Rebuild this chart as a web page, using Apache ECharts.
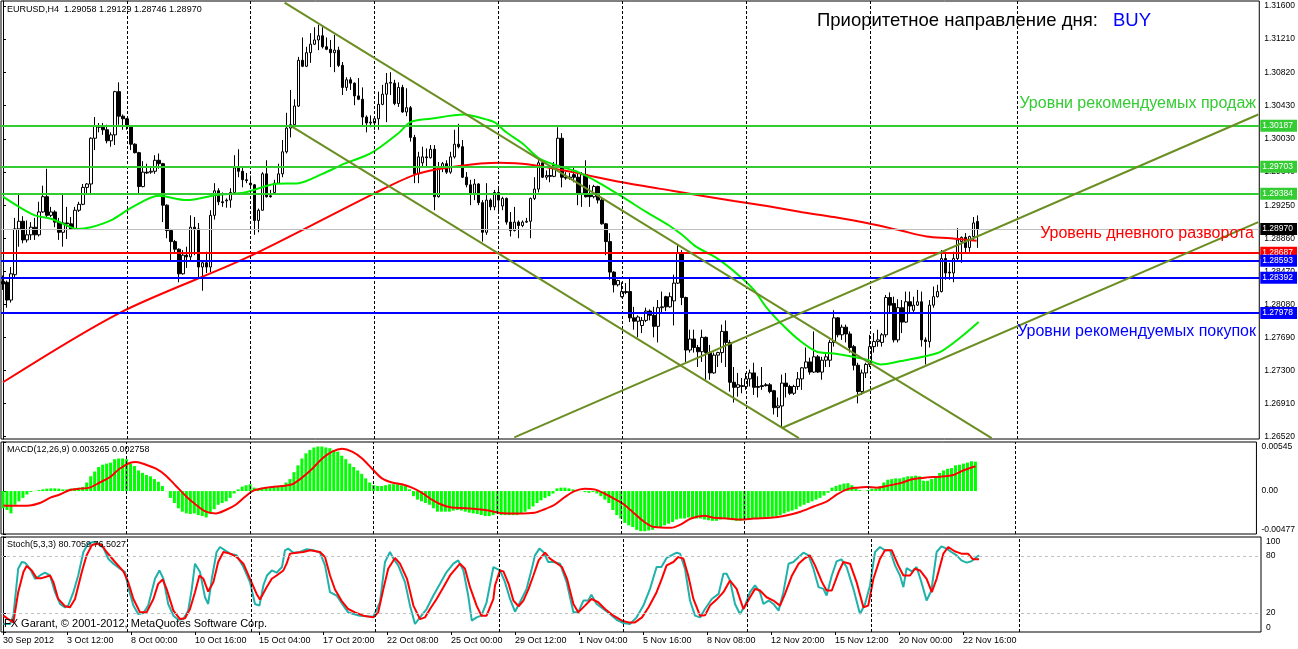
<!DOCTYPE html>
<html>
<head>
<meta charset="utf-8">
<script src="https://cdn.jsdelivr.net/npm/echarts@6/dist/echarts.min.js"></script>
<style>
html, body { margin: 0; padding: 0; background: #fff; }
#chart { width: 1298px; height: 649px; }
</style>
</head>
<body>
<div id="chart"></div>
<script>
// EURUSD H4 candles, 30 Sep - 22 Nov 2012
var opens = [1.2835,1.2834,1.2813,1.2843,1.2897,1.2906,1.2884,1.2890,1.2899,1.2890,
1.2917,1.2935,1.2913,1.2917,1.2905,1.2893,1.2904,1.2903,1.2897,1.2919,
1.2926,1.2946,1.2950,1.3004,1.3018,1.3017,1.3014,1.3001,1.3008,1.3059,
1.3030,1.3027,1.3018,1.2997,1.2987,1.2947,1.2964,1.2964,1.2965,1.2978,
1.2974,1.2925,1.2895,1.2882,1.2873,1.2844,1.2866,1.2864,1.2899,1.2897,
1.2852,1.2857,1.2852,1.2913,1.2942,1.2929,1.2930,1.2931,1.2940,1.2969,
1.2965,1.2955,1.2951,1.2949,1.2907,1.2919,1.2962,1.2936,1.2940,1.2951,
1.2962,1.2988,1.3016,1.3020,1.3042,1.3096,1.3089,1.3105,1.3115,1.3120,
1.3125,1.3112,1.3109,1.3105,1.3108,1.3090,1.3064,1.3073,1.3069,1.3054,
1.3050,1.3029,1.3022,1.3022,1.3027,1.3044,1.3056,1.3069,1.3069,1.3045,
1.3064,1.3035,1.3040,1.3005,1.2962,1.2975,1.2982,1.2981,1.2991,1.2935,
1.2970,1.2974,1.2964,1.2982,1.2997,1.2994,1.2958,1.2949,1.2939,1.2950,
1.2928,1.2893,1.2931,1.2923,1.2940,1.2924,1.2933,1.2905,1.2895,1.2905,
1.2901,1.2905,1.2906,1.2933,1.2944,1.2975,1.2958,1.2960,1.2959,1.2972,
1.3004,1.2958,1.2957,1.2961,1.2958,1.2939,1.2961,1.2937,1.2935,1.2947,
1.2931,1.2903,1.2882,1.2846,1.2831,1.2817,1.2823,1.2823,1.2792,1.2788,
1.2783,1.2789,1.2800,1.2795,1.2782,1.2804,1.2817,1.2805,1.2812,1.2833,
1.2869,1.2816,1.2754,1.2767,1.2757,1.2752,1.2769,1.2751,1.2727,1.2748,
1.2751,1.2776,1.2763,1.2716,1.2710,1.2712,1.2711,1.2720,1.2727,1.2711,
1.2712,1.2713,1.2713,1.2706,1.2686,1.2688,1.2715,1.2711,1.2703,1.2711,
1.2720,1.2733,1.2740,1.2728,1.2746,1.2728,1.2742,1.2742,1.2763,1.2792,
1.2772,1.2781,1.2773,1.2758,1.2736,1.2705,1.2727,1.2737,1.2758,1.2764,
1.2763,1.2772,1.2816,1.2809,1.2766,1.2804,1.2787,1.2811,1.2801,1.2807,
1.2811,1.2766,1.2764,1.2807,1.2817,1.2823,1.2862,1.2846,1.2845,1.2862,
1.2882,1.2887,1.2875,1.2888,1.29058];
var closes = [1.2832,1.2813,1.2844,1.2897,1.2906,1.2884,1.2890,1.2899,1.2890,1.2917,
1.2935,1.2913,1.2917,1.2905,1.2893,1.2904,1.2903,1.2897,1.2919,1.2926,
1.2946,1.2950,1.3004,1.3018,1.3017,1.3014,1.3001,1.3008,1.3059,1.3030,
1.3027,1.3018,1.2997,1.2987,1.2947,1.2964,1.2963,1.2965,1.2978,1.2974,
1.2925,1.2895,1.2882,1.2873,1.2844,1.2866,1.2864,1.2899,1.2897,1.2852,
1.2857,1.2852,1.2913,1.2942,1.2929,1.2928,1.2931,1.2940,1.2969,1.2965,
1.2955,1.2954,1.2949,1.2907,1.2919,1.2962,1.2935,1.2935,1.2951,1.2962,
1.2988,1.3016,1.3020,1.3042,1.3096,1.3089,1.3105,1.3115,1.3120,1.3125,
1.3112,1.3109,1.3105,1.3108,1.3090,1.3064,1.3073,1.3069,1.3054,1.3050,
1.3029,1.3022,1.3023,1.3027,1.3044,1.3056,1.3069,1.3070,1.3045,1.3064,
1.3035,1.3040,1.3005,1.2962,1.2982,1.2982,1.2981,1.2991,1.2935,1.2970,
1.2974,1.2964,1.2982,1.2997,1.2994,1.2958,1.2949,1.2939,1.2950,1.2928,
1.2893,1.2931,1.2923,1.2940,1.2931,1.2933,1.2905,1.2895,1.2905,1.2901,
1.2905,1.2906,1.2933,1.2944,1.2975,1.2958,1.2960,1.2959,1.2972,1.3004,
1.2958,1.2957,1.2958,1.2958,1.2939,1.2961,1.2935,1.2935,1.2947,1.2931,
1.2903,1.2882,1.2846,1.2831,1.2836,1.2823,1.2822,1.2792,1.2788,1.2793,
1.2789,1.2800,1.2795,1.2782,1.2804,1.2805,1.2805,1.2817,1.2833,1.2869,
1.2816,1.2754,1.2767,1.2757,1.2752,1.2769,1.2751,1.2727,1.2748,1.2751,
1.2776,1.2763,1.2716,1.2710,1.2713,1.2711,1.2720,1.2727,1.2710,1.2710,
1.2711,1.2712,1.2705,1.2686,1.2688,1.2715,1.2711,1.2703,1.2711,1.2720,
1.2733,1.2740,1.2728,1.2746,1.2728,1.2742,1.2746,1.2763,1.2792,1.2772,
1.2781,1.2773,1.2757,1.2736,1.2705,1.2727,1.2737,1.2758,1.2764,1.2766,
1.2772,1.2816,1.2807,1.2766,1.2804,1.2787,1.2811,1.2806,1.2807,1.2811,
1.2766,1.2764,1.2807,1.2817,1.2823,1.2862,1.2845,1.2845,1.2862,1.2884,
1.2887,1.2875,1.2888,1.2904,1.28970];
var lows = [1.2825,1.2804,1.2810,1.2840,1.2876,1.2880,1.2881,1.2884,1.2884,1.2888,
1.2916,1.2911,1.2911,1.2899,1.2884,1.2876,1.2885,1.2896,1.2896,1.2917,
1.2925,1.2937,1.2937,1.2990,1.3011,1.3008,1.2998,1.2994,1.2996,1.3020,
1.3014,1.3014,1.2990,1.2986,1.2937,1.2946,1.2962,1.2962,1.2962,1.2968,
1.2905,1.2886,1.2860,1.2869,1.2834,1.2843,1.2851,1.2860,1.2866,1.2840,
1.2824,1.2845,1.2846,1.2908,1.2925,1.2923,1.2922,1.2922,1.2939,1.2958,
1.2946,1.2951,1.2946,1.2890,1.2893,1.2919,1.2934,1.2934,1.2939,1.2950,
1.2958,1.2986,1.3005,1.3017,1.3041,1.3088,1.3088,1.3093,1.3114,1.3108,
1.3110,1.3108,1.3088,1.3082,1.3088,1.3055,1.3060,1.3061,1.3043,1.3049,
1.3018,1.3011,1.3017,1.3014,1.3014,1.3043,1.3023,1.3055,1.3043,1.3041,
1.3034,1.3030,1.3000,1.2951,1.2951,1.2971,1.2970,1.2980,1.2919,1.2934,
1.2964,1.2962,1.2962,1.2980,1.2992,1.2957,1.2946,1.2925,1.2931,1.2925,
1.2882,1.2890,1.2919,1.2919,1.2916,1.2919,1.2902,1.2888,1.2894,1.2886,
1.2899,1.2904,1.2886,1.2931,1.2940,1.2957,1.2955,1.2952,1.2958,1.2970,
1.2946,1.2955,1.2955,1.2952,1.2925,1.2923,1.2934,1.2923,1.2933,1.2927,
1.2902,1.2866,1.2837,1.2822,1.2829,1.2816,1.2820,1.2787,1.2778,1.2769,
1.2774,1.2787,1.2789,1.2769,1.2763,1.2798,1.2800,1.2804,1.2783,1.2832,
1.2807,1.2740,1.2751,1.2751,1.2734,1.2740,1.2719,1.2719,1.2726,1.2734,
1.2739,1.2734,1.2705,1.2692,1.2699,1.2703,1.2707,1.2711,1.2701,1.2698,
1.2707,1.2711,1.2703,1.2678,1.2675,1.2662,1.2698,1.2701,1.2701,1.2707,
1.2707,1.2732,1.2725,1.2727,1.2727,1.2719,1.2734,1.2734,1.2758,1.2769,
1.2766,1.2763,1.2751,1.2730,1.2691,1.2701,1.2721,1.2734,1.2751,1.2758,
1.2758,1.2769,1.2798,1.2763,1.2763,1.2774,1.2786,1.2798,1.2799,1.2806,
1.2758,1.2737,1.2757,1.2804,1.2816,1.2822,1.2837,1.2837,1.2834,1.2860,
1.2857,1.2869,1.2870,1.2884,1.28746];
var highs = [1.2842,1.2836,1.2852,1.2910,1.2937,1.2912,1.2907,1.2905,1.2910,1.2929,
1.2948,1.2968,1.2923,1.2919,1.2910,1.2937,1.2923,1.2911,1.2923,1.2929,
1.2950,1.2951,1.3005,1.3029,1.3022,1.3022,1.3020,1.3011,1.3060,1.3070,
1.3032,1.3028,1.3019,1.2998,1.2988,1.2977,1.2974,1.2969,1.2984,1.2986,
1.2975,1.2926,1.2897,1.2884,1.2874,1.2872,1.2876,1.2913,1.2911,1.2904,
1.2858,1.2870,1.2919,1.2951,1.2945,1.2940,1.2933,1.2945,1.2984,1.2991,
1.2969,1.2963,1.2960,1.2950,1.2921,1.2964,1.2978,1.2943,1.2955,1.2974,
1.3002,1.3034,1.3061,1.3050,1.3100,1.3123,1.3112,1.3128,1.3135,1.3138,
1.3135,1.3123,1.3120,1.3126,1.3112,1.3094,1.3076,1.3076,1.3070,1.3075,
1.3064,1.3031,1.3031,1.3028,1.3059,1.3067,1.3081,1.3082,1.3073,1.3070,
1.3067,1.3063,1.3042,1.3008,1.2988,1.2994,1.2992,1.2996,1.2996,1.2976,
1.2976,1.2978,1.2988,1.3014,1.3021,1.3002,1.2964,1.2955,1.2956,1.2951,
1.2931,1.2951,1.2933,1.2943,1.2945,1.2935,1.2934,1.2917,1.2923,1.2907,
1.2907,1.2910,1.2934,1.2958,1.2978,1.2976,1.2966,1.2969,1.2976,1.3017,
1.3010,1.2964,1.2963,1.2970,1.2963,1.2964,1.2978,1.2949,1.2949,1.2948,
1.2934,1.2904,1.2892,1.2847,1.2837,1.2834,1.2833,1.2840,1.2805,1.2795,
1.2793,1.2804,1.2802,1.2805,1.2813,1.2823,1.2818,1.2822,1.2843,1.2879,
1.2872,1.2817,1.2778,1.2778,1.2760,1.2778,1.2770,1.2760,1.2751,1.2752,
1.2784,1.2789,1.2766,1.2734,1.2727,1.2721,1.2727,1.2731,1.2739,1.2723,
1.2734,1.2715,1.2715,1.2707,1.2698,1.2725,1.2727,1.2713,1.2713,1.2728,
1.2734,1.2757,1.2745,1.2776,1.2748,1.2746,1.2751,1.2766,1.2801,1.2793,
1.2784,1.2784,1.2776,1.2760,1.2739,1.2731,1.2739,1.2772,1.2774,1.2778,
1.2774,1.2819,1.2822,1.2817,1.2814,1.2813,1.2823,1.2823,1.2817,1.2825,
1.2823,1.2769,1.2813,1.2829,1.2831,1.2872,1.2870,1.2857,1.2870,1.2898,
1.2888,1.2892,1.2889,1.2911,1.29129];

// moving averages: [bar, price]
var maSlow = [[0,1.2716],[29.25,1.2798],[61,1.2863],[93,1.2939],[103.75,1.2962],[113.75,1.2971],
[124.25,1.2975],[131.75,1.2973],[142.5,1.2964],[155,1.2952],[167.5,1.2942],[183,1.2930],
[191.25,1.2924],[199.75,1.2917],[208,1.2911],[216.25,1.2904],[224.75,1.2895],[231.25,1.2888],
[237.25,1.2886],[243.75,1.2883]];
var maFast = [[0,1.2935],[4,1.2923],[8,1.2913],[12,1.2909],[16,1.2901],[18.5,1.2897],[22,1.2899],
[27,1.2907],[32.5,1.2923],[39,1.2936],[46,1.2931],[53.5,1.2937],[60.5,1.2940],[68,1.2950],
[74,1.2951],[80,1.2962],[85.5,1.2974],[92,1.2986],[99,1.3010],[102,1.3023],[107,1.3027],
[115.5,1.3032],[118.75,1.3029],[123,1.3023],[126,1.3011],[130,1.2998],[134,1.2981],
[138.5,1.2972],[144,1.2964],[149,1.2952],[155,1.2935],[161,1.2917],[166.75,1.2901],
[170,1.2890],[173.5,1.2876],[178.5,1.2863],[184,1.2843],[188,1.2825],[191,1.2805],
[195.5,1.2782],[199.75,1.2764],[203.75,1.2752],[208,1.2750],[216,1.2743],[219.75,1.2737],
[224.75,1.2741],[231.25,1.2747],[234.75,1.2752],[239.75,1.2769],[244.25,1.2787]];

// trend channels: pairs of [bar, price] end points
var trendLines = [
  [[70.5,1.3164],[247.5,1.2650]],
  [[72.25,1.3018],[199.25,1.2650]],
  [[128,1.2651],[314.25,1.3032]],
  [[195,1.2662],[314.25,1.2905]]
];

var sellLevels = [1.30187, 1.29703, 1.29384];
var pivotLevel = 1.28687;
var buyLevels = [1.28593, 1.28392, 1.27978];
var lastPrice = 1.28970;

var priceTicks = [1.31600,1.31210,1.30820,1.30430,1.30030,1.29640,1.29250,1.28860,1.28470,1.28080,1.27690,1.27300,1.26910,1.26520];
var macdTicks = [-0.00477, 0, 0.00545];
var stochTicks = [0, 20, 80, 100];
var timeLabels = ['30 Sep 2012','3 Oct 12:00','8 Oct 00:00','10 Oct 16:00','15 Oct 04:00','17 Oct 20:00',
'22 Oct 08:00','25 Oct 00:00','29 Oct 12:00','1 Nov 04:00','5 Nov 16:00','8 Nov 08:00',
'12 Nov 20:00','15 Nov 12:00','20 Nov 00:00','22 Nov 16:00'];
var weekBars = [31, 62, 93, 124, 155, 186, 217, 254];

var macdHist = [-0.00191,-0.00210,-0.00248,-0.00152,-0.00114,-0.00076,-0.00038,-0.00011,0.00002,0.00011,
0.00019,0.00027,0.00030,0.00030,0.00027,0.00019,0.00019,0.00027,0.00030,0.00038,
0.00046,0.00095,0.00164,0.00217,0.00267,0.00293,0.00305,0.00316,0.00354,0.00362,
0.00362,0.00354,0.00305,0.00278,0.00229,0.00202,0.00179,0.00164,0.00133,0.00103,
0.00057,-0.00002,-0.00076,-0.00133,-0.00191,-0.00229,-0.00248,-0.00255,-0.00248,-0.00267,
-0.00278,-0.00293,-0.00255,-0.00202,-0.00152,-0.00133,-0.00114,-0.00076,-0.00027,0.00019,
0.00050,0.00065,0.00076,0.00038,0.00027,0.00038,0.00038,0.00046,0.00057,0.00057,
0.00065,0.00095,0.00133,0.00210,0.00286,0.00362,0.00419,0.00457,0.00484,0.00495,
0.00495,0.00484,0.00476,0.00457,0.00438,0.00392,0.00354,0.00305,0.00267,0.00229,
0.00191,0.00141,0.00095,0.00065,0.00057,0.00057,0.00065,0.00076,0.00076,0.00076,
0.00065,0.00057,0.00019,-0.00057,-0.00095,-0.00114,-0.00133,-0.00152,-0.00191,-0.00229,
-0.00229,-0.00229,-0.00229,-0.00217,-0.00210,-0.00217,-0.00229,-0.00240,-0.00248,-0.00255,
-0.00267,-0.00278,-0.00278,-0.00267,-0.00248,-0.00267,-0.00267,-0.00267,-0.00267,-0.00267,
-0.00248,-0.00229,-0.00202,-0.00171,-0.00133,-0.00103,-0.00076,-0.00057,-0.00027,0.00030,
0.00038,0.00038,0.00030,0.00019,-0.00002,-0.00002,-0.00011,-0.00019,-0.00011,-0.00027,
-0.00057,-0.00095,-0.00133,-0.00210,-0.00267,-0.00305,-0.00354,-0.00381,-0.00400,-0.00431,
-0.00446,-0.00446,-0.00438,-0.00431,-0.00408,-0.00400,-0.00381,-0.00362,-0.00343,-0.00316,
-0.00305,-0.00305,-0.00293,-0.00293,-0.00305,-0.00305,-0.00316,-0.00324,-0.00331,-0.00331,
-0.00316,-0.00305,-0.00316,-0.00324,-0.00331,-0.00331,-0.00324,-0.00316,-0.00305,-0.00305,
-0.00297,-0.00293,-0.00286,-0.00286,-0.00278,-0.00267,-0.00248,-0.00229,-0.00217,-0.00202,
-0.00171,-0.00152,-0.00133,-0.00114,-0.00095,-0.00076,-0.00050,-0.00019,0.00038,0.00057,
0.00072,0.00084,0.00088,0.00065,0.00030,0.00011,0.00002,0.00011,0.00027,0.00027,
0.00050,0.00095,0.00126,0.00133,0.00141,0.00141,0.00152,0.00164,0.00164,0.00171,
0.00164,0.00114,0.00114,0.00133,0.00164,0.00202,0.00229,0.00248,0.00255,0.00286,
0.00293,0.00305,0.00316,0.00331,0.003265];
var macdSignal = [[0.1,-0.00160],[2.6,-0.00164],[6.75,-0.00160],[9.25,-0.00133],[11.75,-0.00076],
[14.25,-0.00038],[16.75,0.00011],[19.25,0.00027],[21.75,0.00038],[24.25,0.00095],[26.75,0.00152],
[29.25,0.00248],[31.75,0.00312],[33.4,0.00324],[35.9,0.00293],[38.4,0.00248],[40.9,0.00171],
[43.4,0.00057],[45.9,-0.00057],[48.4,-0.00152],[50.9,-0.00229],[53.4,-0.00248],[55.9,-0.00210],
[58.4,-0.00152],[60.9,-0.00057],[62.6,0.00000],[65.1,0.00030],[67.6,0.00046],[70.1,0.00057],
[72.6,0.00076],[75.1,0.00152],[77.6,0.00248],[80.1,0.00362],[82.6,0.00438],[85.1,0.00469],
[87.6,0.00438],[90.1,0.00362],[92.6,0.00248],[95.1,0.00141],[97.6,0.00095],[100.1,0.00076],
[102.6,0.00038],[105.1,-0.00019],[107.6,-0.00095],[110.1,-0.00152],[112.6,-0.00183],
[115.9,-0.00191],[119.25,-0.00202],[121.75,-0.00217],[124.25,-0.00240],[126.75,-0.00248],
[129.25,-0.00248],[133.4,-0.00240],[135.9,-0.00202],[138.4,-0.00152],[140.9,-0.00069],
[143.4,0.00000],[145.9,0.00027],[148.4,0.00019],[150.9,-0.00027],[153.4,-0.00088],
[155.9,-0.00152],[158.4,-0.00248],[160.9,-0.00343],[163.4,-0.00400],[167.6,-0.00408],
[170.1,-0.00370],[172.6,-0.00305],[175.9,-0.00274],[178.4,-0.00297],[181.75,-0.00305],
[185.1,-0.00316],[188.4,-0.00305],[192.6,-0.00297],[195.9,-0.00278],[200.1,-0.00229],
[203.4,-0.00171],[206.75,-0.00114],[209.25,-0.00038],[211.75,0.00019],[214.25,0.00038],
[216.75,0.00046],[219.25,0.00038],[221.75,0.00057],[225.1,0.00088],[228.4,0.00133],
[231.75,0.00152],[235.1,0.00160],[238.4,0.00179],[240.9,0.00229],[244,0.002758]];

var stochMain = [[0.1,8.4],[1.75,8.4],[2.6,17.2],[3.8,66.6],[4.7,73.7],[5.5,73.0],[6.75,66.6],[8.0,56.0],
[9.25,59.5],[10.5,62.4],[11.75,59.5],[13.0,41.9],[14.25,29.5],[15.5,26.0],[16.3,27.8],[17.6,41.9],
[18.8,59.5],[20.1,84.2],[21.3,93.1],[22.6,94.8],[23.8,93.1],[25.1,88.5],[26.3,77.2],[27.6,71.9],
[29.25,66.6],[30.5,63.1],[31.3,47.2],[32.6,27.8],[33.8,18.9],[35.1,20.0],[36.3,27.8],[38.0,56.0],
[39.1,64.8],[40.1,56.0],[41.3,29.5],[42.6,17.2],[43.8,12.9],[45.1,13.6],[46.3,22.5],[47.2,45.4],
[48.0,71.9],[49.25,63.1],[50.5,36.6],[51.3,29.5],[52.2,56.0],[53.4,84.2],[54.25,89.5],[55.5,86.0],
[56.75,82.5],[58.4,80.7],[60.1,68.4],[61.75,52.5],[63.0,29.5],[64.1,27.8],[65.1,49.0],[66.0,59.5],
[67.2,64.8],[68.4,62.4],[69.75,68.4],[70.5,86.0],[71.3,87.8],[72.6,83.5],[74.25,84.2],[75.9,87.1],
[77.6,86.0],[79.25,83.5],[80.5,70.1],[81.75,41.9],[83.4,38.4],[85.1,27.8],[86.3,20.7],[87.6,18.9],
[89.25,17.2],[90.9,16.5],[92.6,16.1],[94.25,31.3],[95.5,73.7],[96.75,84.2],[97.6,77.2],[98.8,70.1],
[100.5,52.5],[101.75,27.8],[103.0,8.4],[104.25,15.4],[105.9,24.2],[107.6,38.4],[109.25,50.7],
[110.9,63.1],[112.6,71.9],[113.8,75.4],[115.1,64.8],[116.3,38.4],[117.2,11.9],[118.4,15.4],
[119.6,17.2],[120.9,31.3],[122.6,68.4],[124.25,64.8],[125.5,52.5],[126.75,34.8],[128.0,21.4],
[129.25,31.3],[130.9,45.4],[132.2,66.6],[133.0,80.7],[134.1,87.8],[135.1,84.2],[136.3,73.7],
[137.6,73.7],[139.25,71.9],[140.9,52.5],[142.6,20.7],[143.8,20.7],[145.1,33.1],[146.3,33.1],
[147.1,39.1],[148.4,29.5],[150.1,24.2],[151.75,18.9],[153.4,12.9],[155.1,9.4],[156.75,8.4],
[158.4,15.4],[160.1,27.8],[161.75,45.4],[163.4,68.4],[164.6,68.4],[165.9,77.9],[167.1,80.7],
[168.4,83.5],[169.25,82.5],[170.5,66.6],[171.75,33.1],[173.0,17.2],[174.25,15.4],[175.5,24.2],
[177.2,34.8],[178.9,40.1],[180.1,61.3],[180.9,61.3],[181.75,54.2],[183.0,29.5],[184.25,18.9],
[185.5,27.8],[186.75,41.9],[188.0,49.0],[189.25,41.9],[190.1,29.5],[191.4,33.1],[192.6,29.5],
[193.9,22.5],[195.1,41.9],[196.4,71.9],[197.6,73.7],[198.9,79.0],[200.1,83.5],[201.4,80.7],
[202.6,66.6],[203.9,47.2],[205.1,45.4],[205.9,38.4],[207.2,59.5],[208.4,74.4],[209.6,76.5],
[210.9,68.4],[212.6,45.4],[214.25,18.9],[215.5,29.5],[216.75,49.0],[218.0,84.2],[219.25,89.5],
[220.5,86.0],[221.75,86.0],[223.0,70.1],[224.25,59.5],[225.1,47.2],[225.9,67.3],[227.2,63.8],
[228.4,68.4],[229.6,52.5],[230.9,33.1],[232.1,43.7],[233.4,84.2],[234.6,90.2],[235.9,87.8],
[237.1,84.2],[238.4,80.7],[239.6,75.4],[240.9,73.0],[242.1,74.4],[244.0,80.7]];
var stochSignal = [[0.1,17.2],[1.3,13.6],[2.6,10.1],[3.8,41.9],[5.1,63.1],[5.9,69.4],[7.2,64.8],[8.4,56.7],
[9.7,56.7],[11.75,59.5],[12.6,52.5],[13.8,34.8],[15.5,27.1],[16.75,26.0],[18.0,34.8],[19.7,63.1],
[20.9,80.7],[22.2,91.3],[23.4,93.1],[24.7,91.3],[25.9,84.2],[28.0,73.7],[30.1,63.8],[31.3,52.5],
[32.6,34.8],[34.25,20.7],[35.9,20.7],[37.6,34.8],[38.8,50.7],[39.9,55.3],[40.9,45.4],[42.6,22.5],
[44.25,13.6],[45.5,14.4],[46.75,24.2],[48.0,41.9],[49.1,59.5],[50.1,56.0],[51.3,42.6],[52.6,52.5],
[53.8,73.7],[55.1,84.2],[56.75,82.5],[58.4,79.0],[60.1,71.9],[61.75,56.0],[63.4,40.1],[64.25,34.1],
[65.9,47.2],[67.2,56.0],[68.4,59.5],[70.1,64.8],[70.9,71.9],[71.75,82.5],[73.4,83.5],[75.1,84.2],
[76.75,86.0],[79.25,84.2],[80.5,79.0],[81.75,59.5],[83.0,44.7],[84.6,33.1],[86.3,24.2],[88.0,20.7],
[90.1,17.2],[92.6,15.4],[93.8,20.7],[95.1,45.4],[96.3,66.6],[98.0,77.9],[99.25,71.9],[101.0,56.0],
[102.6,27.8],[104.25,13.6],[105.5,15.4],[106.75,24.2],[108.4,34.8],[110.1,47.2],[111.75,59.5],
[114.25,71.9],[115.5,66.6],[116.75,47.2],[118.4,27.8],[119.6,17.2],[120.9,17.2],[122.6,34.8],
[123.0,49.0],[124.25,64.8],[125.1,63.8],[126.4,50.7],[127.6,33.1],[128.9,27.1],[130.1,33.1],
[131.4,45.4],[132.6,59.5],[133.9,75.4],[135.5,83.5],[136.75,77.2],[138.0,73.7],[139.75,68.4],
[141.0,56.0],[142.6,29.5],[143.8,20.7],[145.5,27.8],[147.1,34.8],[148.8,31.3],[150.5,24.2],
[152.6,17.2],[154.75,11.9],[156.4,10.1],[158.0,10.1],[159.75,15.4],[161.4,26.0],[163.4,41.9],
[164.7,56.0],[165.9,70.1],[167.6,73.7],[168.8,79.0],[170.1,77.2],[171.3,59.5],[172.6,34.8],
[174.25,17.2],[175.5,17.7],[176.75,27.8],[178.4,34.1],[180.1,41.9],[181.75,54.2],[183.4,45.4],
[185.1,24.2],[186.75,36.6],[188.0,45.4],[189.25,43.7],[190.9,36.6],[192.6,33.1],[194.25,27.8],
[195.5,40.1],[197.25,59.5],[198.9,71.9],[200.5,77.9],[201.75,80.7],[203.0,70.1],[204.75,52.5],
[205.9,43.7],[207.2,43.7],[208.9,63.1],[210.1,73.7],[211.75,71.9],[213.4,52.5],[215.1,26.0],
[216.3,27.8],[217.6,56.0],[219.25,77.2],[220.5,86.0],[222.2,86.0],[223.8,70.1],[225.1,59.5],
[226.75,59.5],[228.0,66.6],[229.25,64.8],[230.9,56.0],[232.2,41.9],[233.4,56.0],[235.1,82.5],
[236.3,89.5],[237.9,85.0],[239.6,82.5],[241.25,82.5],[242.5,76.5],[244.0,76.5]];

var FONT = '"Liberation Sans", Arial, sans-serif';
var SLOTS = 315;
var slots = [];
for (var k = 0; k < SLOTS; k++) slots.push(String(k));

var candleData = opens.map(function (o, i) {
    return [o, closes[i], lows[i], highs[i]];
});

function weekMarks() {
    return {
        silent: true, symbol: 'none', animation: false, precision: 5,
        label: { show: false },
        lineStyle: { color: '#000', type: [3, 2], width: 1 },
        data: weekBars.map(function (b) { return { xAxis: b }; })
    };
}

function levelItem(price, color, textColor) {
    return {
        yAxis: price,
        lineStyle: { color: color, width: 2, type: 'solid' },
        label: {
            show: true, position: 'end', distance: 1,
            formatter: price.toFixed(5),
            color: textColor || '#fff', backgroundColor: color,
            fontSize: 8.5, fontFamily: FONT, padding: [2, 4, 1, 2]
        }
    };
}

var levelData = [];
sellLevels.forEach(function (p) { levelData.push(levelItem(p, '#33CC33')); });
levelData.push(levelItem(pivotLevel, '#FF0000'));
buyLevels.forEach(function (p) { levelData.push(levelItem(p, '#0000FF')); });
var lastItem = levelItem(lastPrice, '#000');
lastItem.lineStyle = { color: '#C0C0C0', width: 1, type: 'solid' };

function catAxis(g, showLabels) {
    return {
        type: 'category', gridIndex: g, data: slots, boundaryGap: true,
        axisLine: { show: false },
        axisTick: showLabels ? {
            show: true, length: 3, alignWithLabel: true,
            interval: function (i) { return i % 16 === 0 && i <= 240; },
            lineStyle: { color: '#000' }
        } : { show: false },
        axisLabel: showLabels ? {
            show: true, margin: 4, align: 'left',
            interval: function (i) { return i % 16 === 0 && i <= 240; },
            formatter: function (v, i) { return timeLabels[i / 16] || ''; },
            color: '#000', fontSize: 9, fontFamily: FONT
        } : { show: false },
        splitLine: { show: false }
    };
}
function valAxis(g) {
    return { type: 'value', gridIndex: g, min: -0.5, max: SLOTS - 0.5, show: false };
}
function priceAxis(g, min, max, ticks, fmt, edgeAlign) {
    var lab = {
        show: true, customValues: ticks, formatter: fmt, margin: 5,
        color: '#000', fontSize: 8.5, fontFamily: FONT
    };
    if (edgeAlign) {
        lab.verticalAlignMinLabel = 'bottom';
        lab.verticalAlignMaxLabel = 'top';
    }
    return {
        type: 'value', gridIndex: g, position: 'right', min: min, max: max,
        axisLine: { show: true, lineStyle: { color: '#000', width: 1 } },
        axisTick: { show: true, customValues: ticks, length: 3, lineStyle: { color: '#000' } },
        axisLabel: lab,
        splitLine: { show: false }
    };
}

var series = [
    { type: 'line', name: 'grid0', xAxisIndex: 3, yAxisIndex: 0, data: [], z: 1, markLine: weekMarks() },
    {
        type: 'candlestick', xAxisIndex: 0, yAxisIndex: 0, data: candleData, barWidth: 3, z: 2,
        itemStyle: { color: '#fff', color0: '#000', borderColor: '#000', borderColor0: '#000', borderWidth: 1 }
    },
    {
        type: 'line', xAxisIndex: 3, yAxisIndex: 0, data: [], z: 3,
        markLine: { silent: true, symbol: 'none', animation: false, precision: 5, data: [lastItem] }
    },
    {
        type: 'line', xAxisIndex: 3, yAxisIndex: 0, data: maSlow, smooth: 0.3, showSymbol: false, z: 4,
        lineStyle: { color: '#FF0000', width: 2 },
        markLine: { silent: true, symbol: 'none', animation: false, precision: 5, data: levelData }
    },
    {
        type: 'line', xAxisIndex: 3, yAxisIndex: 0, data: maFast, smooth: 0.3, showSymbol: false, z: 4,
        lineStyle: { color: '#00EE00', width: 2 }
    }
];
trendLines.forEach(function (tl) {
    series.push({
        type: 'line', xAxisIndex: 3, yAxisIndex: 0, data: tl, showSymbol: false, z: 5,
        lineStyle: { color: '#6B8E23', width: 2 }
    });
});
series.push(
    { type: 'line', xAxisIndex: 4, yAxisIndex: 1, data: [], z: 1, markLine: weekMarks() },
    {
        type: 'bar', xAxisIndex: 1, yAxisIndex: 1, data: macdHist, barWidth: 3, z: 2,
        itemStyle: { color: '#00FF00' }
    },
    {
        type: 'line', xAxisIndex: 4, yAxisIndex: 1, data: macdSignal, smooth: 0.3, showSymbol: false, z: 3,
        lineStyle: { color: '#FF0000', width: 2 }
    },
    {
        type: 'line', xAxisIndex: 5, yAxisIndex: 2, data: [], z: 1, markLine: (function () {
            var m = weekMarks();
            m.data = m.data.concat([
                { yAxis: 80, lineStyle: { color: '#C0C0C0', type: [3, 3], width: 1 } },
                { yAxis: 20, lineStyle: { color: '#C0C0C0', type: [3, 3], width: 1 } }
            ]);
            return m;
        })()
    },
    {
        type: 'line', xAxisIndex: 5, yAxisIndex: 2, data: stochMain, showSymbol: false, z: 3,
        lineStyle: { color: '#20B2AA', width: 2 }
    },
    {
        type: 'line', xAxisIndex: 5, yAxisIndex: 2, data: stochSignal, showSymbol: false, z: 4,
        lineStyle: { color: '#FF0000', width: 2 }
    }
);

function txt(opts, text, size, color) {
    var o = { type: 'text', z: 100, silent: true,
        style: { text: text, font: size + 'px ' + FONT, fill: color } };
    for (var key in opts) o[key] = opts[key];
    return o;
}

var chart = echarts.init(document.getElementById('chart'), null, { renderer: 'canvas' });
chart.setOption({
    animation: false,
    backgroundColor: '#fff',
    textStyle: { fontFamily: FONT },
    grid: [
        { left: 1, top: 1, width: 1260, height: 438, show: true, borderColor: '#000', borderWidth: 1 },
        { left: 1, top: 442, width: 1260, height: 92, show: true, borderColor: '#000', borderWidth: 1 },
        { left: 1, top: 537, width: 1260, height: 95, show: true, borderColor: '#000', borderWidth: 1 }
    ],
    xAxis: [catAxis(0, false), catAxis(1, false), catAxis(2, true), valAxis(0), valAxis(1), valAxis(2)],
    yAxis: [
        priceAxis(0, 1.2649, 1.3166, priceTicks, function (v) { return v.toFixed(5); }, false),
        priceAxis(1, -0.00477, 0.00545, macdTicks, function (v) { return v === 0 ? '0.00' : v.toFixed(5); }, true),
        priceAxis(2, 0, 100, stochTicks, function (v) { return String(v); }, true)
    ],
    series: series,
    graphic: [
        txt({ left: 7, top: 5 }, 'EURUSD,H4  1.29058 1.29129 1.28746 1.28970', 9, '#000'),
        txt({ left: 817, top: 11 }, 'Приоритетное направление дня:', 18.5, '#000'),
        txt({ left: 1113, top: 11 }, 'BUY', 18.5, '#0000FF'),
        txt({ right: 42, top: 96 }, 'Уровни рекомендуемых продаж', 16, '#33CC33'),
        txt({ right: 44, top: 226 }, 'Уровень дневного разворота', 16, '#FF0000'),
        txt({ right: 42, top: 324 }, 'Уровни рекомендуемых покупок', 16, '#0000FF'),
        txt({ left: 7, top: 445 }, 'MACD(12,26,9) 0.003265 0.002758', 9, '#000'),
        txt({ left: 7, top: 540 }, 'Stoch(5,3,3) 80.7059 76.5027', 9, '#000'),
        txt({ left: 4, top: 618 }, 'FX Garant, © 2001-2012, MetaQuotes Software Corp.', 11, '#000')
    ]
});
</script>
</body>
</html>
